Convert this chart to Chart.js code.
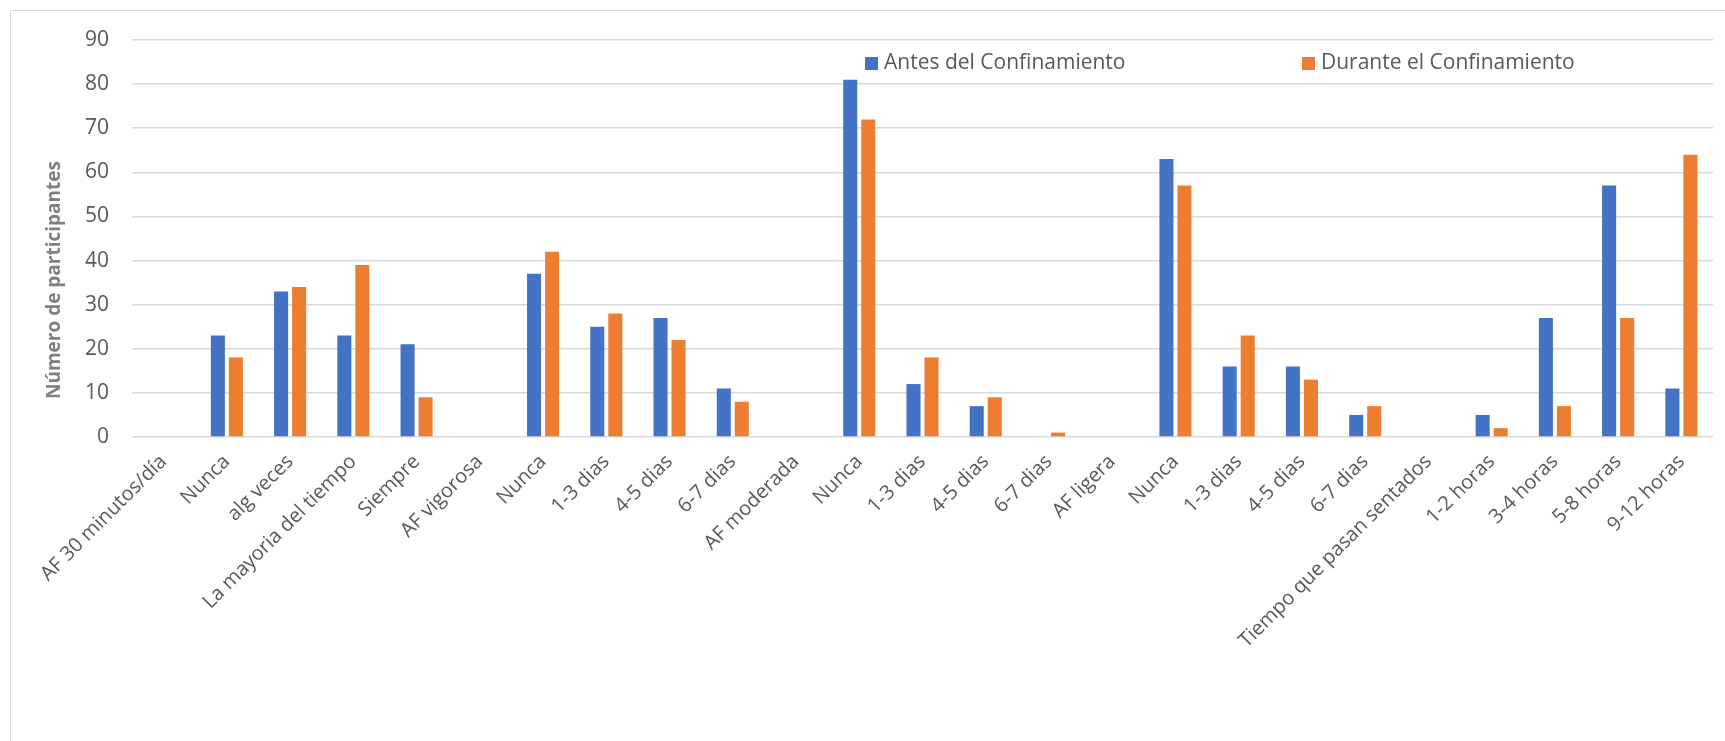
<!DOCTYPE html>
<html>
<head>
<meta charset="utf-8">
<script src="https://cdn.jsdelivr.net/npm/chart.js@4/dist/chart.umd.min.js"></script>
<style>
  html, body { margin: 0; padding: 0; background: #fff; overflow: hidden; }
  #wrap { position: relative; width: 1725px; height: 741px; overflow: hidden; }
  #frame { position: absolute; left: 10px; top: 10px; width: 1760px; height: 800px; border: 1.5px solid #d9d9d9; box-sizing: border-box; }
  canvas { position: absolute; left: 0; top: 0; }
</style>
</head>
<body>
<div id="wrap">
  <div id="frame"></div>
  <canvas id="chart" width="1725" height="741"></canvas>
</div>
<script>
// ---------- Data ----------
const categories = [
  "AF 30 minutos/día", "Nunca", "alg veces", "La mayoria del tiempo", "Siempre",
  "AF vigorosa", "Nunca", "1-3 dias", "4-5 dias", "6-7 dias",
  "AF moderada", "Nunca", "1-3 dias", "4-5 dias", "6-7 dias",
  "AF ligera", "Nunca", "1-3 dias", "4-5 dias", "6-7 dias",
  "Tiempo que pasan sentados", "1-2 horas", "3-4 horas", "5-8 horas", "9-12 horas"
];

const antes = [
  null, 23, 33, 23, 21,
  null, 37, 25, 27, 11,
  null, 81, 12, 7, 0,
  null, 63, 16, 16, 5,
  null, 5, 27, 57, 11
];

const durante = [
  null, 18, 34, 39, 9,
  null, 42, 28, 22, 8,
  null, 72, 18, 9, 1,
  null, 57, 23, 13, 7,
  null, 2, 7, 27, 64
];

const yTicks = [0, 10, 20, 30, 40, 50, 60, 70, 80, 90];

const seriesNames = ["Antes del Confinamiento", "Durante el Confinamiento"];
const seriesColors = ["#4472c4", "#ed7d31"];

const FONT = "'Open Sans', sans-serif";
const TEXT_GRAY = "#595959";

// ---------- Legend + axis title drawn on top ----------
const extrasPlugin = {
  id: "extras",
  afterDraw(chart) {
    const ctx = chart.ctx;
    ctx.save();

    // legend, sits inside the plot between the 80 and 90 gridlines
    const legendX = [865, 1302];
    const legendY = 63;
    ctx.font = "21px " + FONT;
    ctx.textBaseline = "middle";
    ctx.textAlign = "left";
    seriesNames.forEach((name, i) => {
      ctx.fillStyle = seriesColors[i];
      ctx.fillRect(legendX[i], legendY - 6, 13, 13);
      ctx.fillStyle = TEXT_GRAY;
      ctx.fillText(name, legendX[i] + 19, legendY);
    });

    // y axis title
    ctx.translate(55, 280);
    ctx.rotate(-Math.PI / 2);
    ctx.font = "bold 19px " + FONT;
    ctx.fillStyle = "#7f7f7f";
    ctx.textAlign = "center";
    ctx.fillText("Número de participantes", 0, 0);

    ctx.restore();
  }
};

// ---------- Chart ----------
const ctx = document.getElementById("chart").getContext("2d");

new Chart(ctx, {
  type: "bar",
  data: {
    labels: categories,
    datasets: [
      {
        label: seriesNames[0],
        data: antes,
        backgroundColor: seriesColors[0],
        categoryPercentage: 0.57,
        barPercentage: 0.78
      },
      {
        label: seriesNames[1],
        data: durante,
        backgroundColor: seriesColors[1],
        categoryPercentage: 0.57,
        barPercentage: 0.78
      }
    ]
  },
  options: {
    responsive: false,
    animation: false,
    layout: {
      padding: { left: 12, right: 12, top: 40, bottom: 0 }
    },
    plugins: {
      legend: { display: false },
      tooltip: { enabled: false }
    },
    scales: {
      x: {
        grid: { display: false, drawTicks: false },
        border: { display: false },
        ticks: {
          autoSkip: false,
          minRotation: 45,
          maxRotation: 45,
          padding: 13,
          color: TEXT_GRAY,
          font: { family: FONT, size: 20 }
        },
        afterFit(scale) { scale.height = 304; }
      },
      y: {
        min: 0,
        max: 90,
        afterBuildTicks(scale) {
          scale.ticks = yTicks.map(v => ({ value: v }));
        },
        grid: { color: "#d9d9d9", lineWidth: 1.5, drawTicks: false },
        border: { display: false },
        ticks: {
          padding: 23,
          color: TEXT_GRAY,
          font: { family: FONT, size: 21 }
        },
        afterFit(scale) { scale.width = 120; }
      }
    }
  },
  plugins: [extrasPlugin]
});
</script>
</body>
</html>
